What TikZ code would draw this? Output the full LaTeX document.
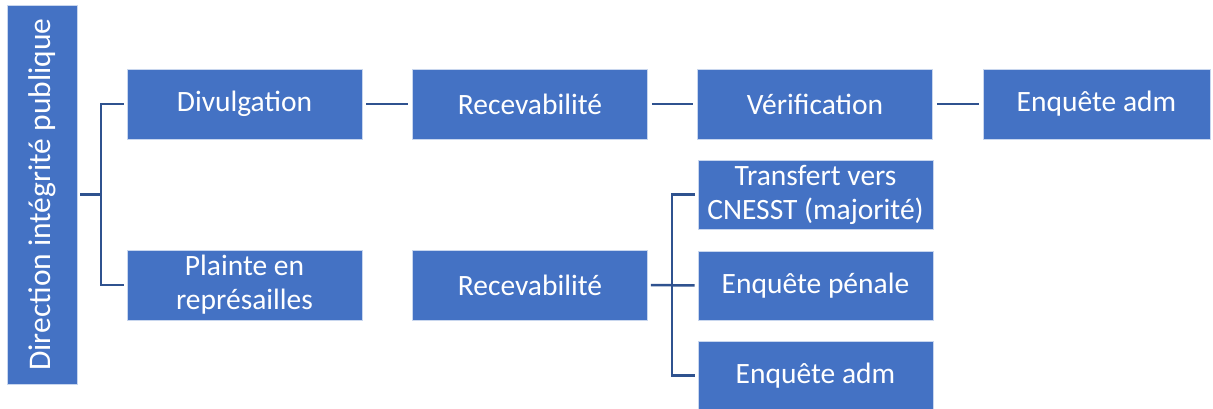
\documentclass[tikz,border=0pt]{standalone}
\usepackage{fontspec}
\setmainfont{Carlito}
\definecolor{boxfill}{RGB}{68,114,196}
\definecolor{boxline}{RGB}{200,214,238}
\definecolor{linkcol}{RGB}{47,82,143}
\begin{document}
\begin{tikzpicture}[x=1pt,y=-1pt,
  box/.style={rectangle, fill=boxfill, draw=boxline, line width=0.8pt,
    text=white, align=center, inner sep=2pt,
    font=\fontsize{29.5}{34}\selectfont},
  stdbox/.style={box, minimum width=235pt, minimum height=70pt},
  conn/.style={draw=linkcol, line width=2.5pt}]
\useasboundingbox (0,0) rectangle (1213,408);

% root
\node[box, minimum width=70pt, minimum height=379pt,
  font=\fontsize{31.5}{36}\selectfont] (root) at (42,194.5)
  {\rotatebox{90}{Direction intégrité publique}};

% upper row
\node[stdbox] (div)  at (244.5,104) {Divulgation};
\node[stdbox] (rec1) at (530,104)   {Recevabilité};
\node[stdbox] (ver)  at (815,104)   {Vérification};
\node[box, minimum width=227pt, minimum height=70pt] (adm1) at (1096.5,104) {Enquête adm};

% lower row
\node[stdbox] (pl)   at (244.5,285) {Plainte en\\représailles};
\node[stdbox] (rec2) at (530,285)   {Recevabilité};
\node[stdbox, minimum height=69pt] (tr)   at (815.5,194.5) {Transfert vers\\CNESST (majorité)};
\node[stdbox, minimum height=69pt] (pen)  at (815.5,285.5) {Enquête pénale};
\node[stdbox, minimum height=69pt] (adm2) at (815.5,375.5) {Enquête adm};

% bracket from the root to the two entry boxes
\coordinate (tm) at (101,194.5);
\draw[conn, shorten <=3pt] (root.east) -- (tm);
\draw[conn, shorten <=3pt, shorten >=3pt] (div.west) -| (tm) |- (pl.west);

% upper chain
\draw[conn, shorten <=4pt, shorten >=4pt] (div.east) -- (rec1.west);
\draw[conn, shorten <=4pt, shorten >=4pt] (rec1.east) -- (ver.west);
\draw[conn, shorten <=4pt, shorten >=4pt] (ver.east) -- (adm1.west);

% lower fan-out
\coordinate (rm) at (672,285);
\draw[conn, shorten <=3pt, shorten >=3pt] (rec2.east) -- (pen.west);
\draw[conn, shorten <=3pt, shorten >=3pt] (tr.west) -| (rm) |- (adm2.west);
\end{tikzpicture}
\end{document}
